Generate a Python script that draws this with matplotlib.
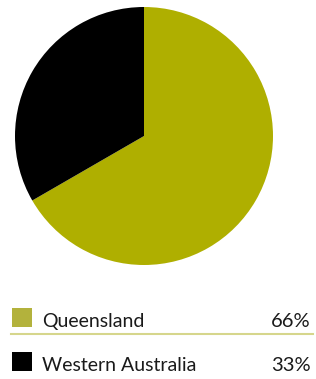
import matplotlib.pyplot as plt
from matplotlib.patches import Rectangle

labels = ['Queensland', 'Western Australia']
values = [66, 33]
pct_labels = ['66%', '33%']
colors = ['#afaf00', '#000000']
key_colors = ['#b3b23c', '#000000']

W, H = 316, 379
fig = plt.figure(figsize=(W / 100, H / 100), dpi=100)

# pie: centre (144, 136), radius 129 px
r = 129
ax = fig.add_axes([(144 - r) / W, 1 - (136 + r) / H, 2 * r / W, 2 * r / H])
ax.pie(values, colors=colors, startangle=90, counterclock=False,
       wedgeprops=dict(linewidth=0))
ax.set_xlim(-1, 1)
ax.set_ylim(-1, 1)
ax.set_aspect('auto')
ax.axis('off')

# legend drawn in pixel coordinates
lg = fig.add_axes([0, 0, 1, 1])
lg.set_xlim(0, W)
lg.set_ylim(H, 0)
lg.axis('off')

font = 'Lato'
rows_y = [327, 371]
for i, (lab, pct) in enumerate(zip(labels, pct_labels)):
    y = rows_y[i]
    lg.add_patch(Rectangle((12, y - 19), 20, 19, color=key_colors[i], lw=0))
    lg.text(42, y, lab, fontsize=14, family=font,
            color='#1a1a1a', va='baseline')
    lg.text(311, y, pct, fontsize=14.5, family=font,
            color='#1a1a1a', va='baseline', ha='right')

lg.plot([11, 313], [334, 334], color='#d6d68c', lw=1.5)

fig.savefig('out.png', dpi=100)
